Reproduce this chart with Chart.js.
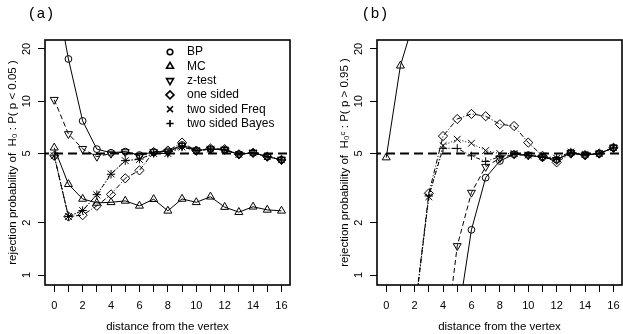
<!DOCTYPE html>
<html>
<head>
<meta charset="utf-8">
<script src="https://cdn.jsdelivr.net/npm/chart.js@4/dist/chart.umd.min.js"></script>
<style>
  html, body { margin: 0; padding: 0; background: #fff; }
  #wrap { position: relative; width: 623px; height: 334px; overflow: hidden; }
  canvas { position: absolute; top: 0; }
</style>
</head>
<body>
<div id="wrap">
  <canvas id="chart-a" width="333" height="334" style="left:0"></canvas>
  <canvas id="chart-b" width="333" height="334" style="left:332px"></canvas>
</div>
<script>
// distances (x) and the log-axis ticks
const distance = [0,1,2,3,4,5,6,7,8,9,10,11,12,13,14,15,16];
const yTicks = [1, 2, 5, 10, 20];
const nominal = 5;

const seriesNames = ['BP', 'MC', 'z-test', 'one sided', 'two sided Freq', 'two sided Bayes'];

// panel (a): H0 rejection, P(p < 0.05), in %
const bpA    = [48, 17.5, 7.7, 5.3, 5.05, 5.13, 4.9, 5.1, 5.15, 5.6, 5.2, 5.3, 5.25, 4.95, 5.05, 4.8, 4.6];
const mcA    = [5.4, 3.33, 2.74, 2.6, 2.62, 2.67, 2.5, 2.73, 2.34, 2.74, 2.62, 2.82, 2.46, 2.3, 2.47, 2.37, 2.34];
const zA     = [10.2, 6.48, 5.32, 4.8, 5.0, 5.1, 4.85, 5.1, 5.1, 5.55, 5.2, 5.3, 5.25, 4.95, 5.05, 4.8, 4.6];
const oneA   = [4.85, 2.17, 2.21, 2.5, 2.91, 3.6, 4.0, 5.1, 5.2, 5.78, 5.2, 5.35, 5.3, 4.95, 5.05, 4.8, 4.6];
const freqA  = [4.85, 2.17, 2.35, 2.89, 3.82, 4.55, 4.62, 5.0, 5.0, 5.45, 5.2, 5.3, 5.25, 4.95, 5.05, 4.8, 4.6];
const bayesA = [4.85, 2.17, 2.35, 2.9, 3.8, 4.55, 4.65, 5.0, 5.0, 5.45, 5.2, 5.3, 5.25, 4.95, 5.05, 4.8, 4.6];

// panel (b): H0^c rejection, P(p > 0.95), in %
const bpB    = [0.05, 0.08, 0.12, 0.2, 0.3, 0.53, 1.82, 3.63, 4.53, 4.95, 4.9, 4.75, 4.6, 5.05, 4.9, 5.0, 5.4];
const mcB    = [4.74, 16, 30, 45, 60, 70, 80, 85, 90, 95, 95, 100, 100, 100, 100, 100, 100];
const zB     = [0.05, 0.08, 0.12, 0.2, 0.32, 1.47, 2.98, 4.2, 4.7, 4.95, 4.9, 4.75, 4.6, 5.05, 4.9, 5.0, 5.4];
const oneB   = [0.1, 0.2, 0.61, 2.95, 6.3, 7.9, 8.45, 8.2, 7.37, 7.2, 5.78, 4.85, 4.45, 5.0, 4.9, 5.0, 5.4];
const freqB  = [0.1, 0.2, 0.6, 2.82, 5.55, 6.04, 5.73, 5.2, 5.0, 5.0, 4.9, 4.85, 4.7, 5.1, 4.95, 5.0, 5.4];
const bayesB = [0.1, 0.2, 0.6, 2.85, 5.36, 5.35, 4.85, 4.5, 4.8, 4.95, 4.85, 4.75, 4.7, 5.1, 4.9, 5.0, 5.4];

(function(){
  const FONT = "'Liberation Sans', Arial, sans-serif";
  // marker + line look per series, same order as seriesNames
  const looks = [
    { pointStyle: 'circle',   rotation: 0,   radius: 3.4, dash: [] },
    { pointStyle: 'triangle', rotation: 0,   radius: 4.6, dash: [] },
    { pointStyle: 'triangle', rotation: 180, radius: 4.6, dash: [5, 3] },
    { pointStyle: 'rectRot',  rotation: 0,   radius: 4.6, dash: [5, 2, 1, 2] },
    { pointStyle: 'crossRot', rotation: 0,   radius: 4.8, dash: [1, 2] },
    { pointStyle: 'cross',    rotation: 0,   radius: 4.2, dash: [4, 2, 1, 2] }
  ];

  function toPoints(vals){
    return distance.map((d, i) => ({ x: d, y: vals[i] }));
  }

  function buildDatasets(all){
    const sets = all.map((vals, i) => ({
      label: seriesNames[i],
      data: toPoints(vals),
      borderColor: '#000',
      backgroundColor: 'rgba(0,0,0,0)',
      borderWidth: 1,
      borderDash: looks[i].dash,
      pointStyle: looks[i].pointStyle,
      pointRotation: looks[i].rotation,
      pointRadius: looks[i].radius,
      pointBorderWidth: 1,
      pointBorderColor: '#000',
      pointBackgroundColor: 'rgba(0,0,0,0)',
      tension: 0
    }));
    // reference line at the nominal 5%
    sets.push({
      label: 'nominal',
      data: [{ x: -1, y: nominal }, { x: 18, y: nominal }],
      borderColor: '#000',
      borderWidth: 2,
      borderDash: [9, 5],
      pointRadius: 0
    });
    return sets;
  }

  const framePlugin = {
    id: 'frame',
    afterDraw(chart, args, opts){
      const ctx = chart.ctx;
      const a = chart.chartArea;
      const ys = chart.scales.y;
      ctx.save();
      ctx.strokeStyle = '#000';
      ctx.lineWidth = 1.6;
      ctx.strokeRect(a.left, a.top, a.right - a.left, a.bottom - a.top);

      // y tick labels written along the axis, like R
      ctx.fillStyle = '#000';
      ctx.font = '11px ' + FONT;
      ctx.textAlign = 'center';
      ctx.textBaseline = 'middle';
      yTicks.forEach(t => {
        const py = ys.getPixelForValue(t);
        ctx.save();
        ctx.translate(a.left - 18, py);
        ctx.rotate(-Math.PI / 2);
        ctx.fillText(String(t), 0, 0);
        ctx.restore();
      });

      // panel tag
      ctx.font = '15px "Liberation Mono", monospace';
      ctx.fillText(opts.tag, opts.tagX, 14);

      if(opts.legend){
        ctx.font = '12px ' + FONT;
        ctx.textAlign = 'left';
        seriesNames.forEach((name, i) => {
          const y = 52 + i * 14.3;
          ctx.save();
          ctx.strokeStyle = '#000';
          ctx.fillStyle = 'rgba(0,0,0,0)';
          ctx.setLineDash([]);
          Chart.helpers.drawPoint(ctx, {
            pointStyle: looks[i].pointStyle,
            rotation: looks[i].rotation,
            radius: looks[i].radius - 0.6,
            borderWidth: 2
          }, 170, y);
          ctx.restore();
          ctx.fillText(name, 187, y);
        });
      }
      ctx.restore();
    }
  };

  function makeChart(id, all, yTitle, tag){
    const ctx = document.getElementById(id);
    return new Chart(ctx, {
      type: 'line',
      data: { datasets: buildDatasets(all) },
      options: {
        responsive: false,
        animation: false,
        layout: { padding: { top: 40, right: 43, left: 0, bottom: 0 } },
        plugins: {
          legend: { display: false },
          tooltip: { enabled: false },
          frame: tag
        },
        scales: {
          x: {
            type: 'linear',
            min: -0.65,
            max: 16.6,
            afterBuildTicks(scale){
              scale.ticks = distance.map(d => ({ value: d }));
            },
            afterFit(scale){ scale.height = 49; },
            ticks: {
              autoSkip: false,
              maxRotation: 0,
              padding: 7,
              color: '#000',
              font: { size: 11, family: FONT },
              callback: v => (v % 2 === 0 ? String(v) : '')
            },
            grid: { drawOnChartArea: false, drawTicks: true, tickLength: 7, color: '#000', lineWidth: 1 },
            border: { display: false },
            title: {
              display: true,
              text: 'distance from the vertex',
              color: '#000',
              padding: { top: 0, bottom: 0 },
              font: { size: 11.5, family: FONT }
            }
          },
          y: {
            type: 'logarithmic',
            min: 0.876,
            max: 22.5,
            afterBuildTicks(scale){
              scale.ticks = yTicks.map(v => ({ value: v }));
            },
            afterFit(scale){ scale.width = 45; },
            ticks: { color: '#000', callback: () => '' , font: { size: 11, family: FONT } },
            grid: { drawOnChartArea: false, drawTicks: true, tickLength: 7, color: '#000', lineWidth: 1 },
            border: { display: false },
            title: {
              display: true,
              text: yTitle,
              color: '#000',
              padding: { top: 6, bottom: 0 },
              font: { size: 11.5, family: FONT }
            }
          }
        }
      },
      plugins: [framePlugin]
    });
  }

  document.addEventListener('DOMContentLoaded', () => {
    makeChart('chart-a', [bpA, mcA, zA, oneA, freqA, bayesA],
      'rejection probability of  H\u2080 : P( p < 0.05 )',
      { tag: '(a)', tagX: 41, legend: true });
    makeChart('chart-b', [bpB, mcB, zB, oneB, freqB, bayesB],
      'rejection probability of  H\u2080\u1D9C : P( p > 0.95 )',
      { tag: '(b)', tagX: 43, legend: false });
  });
})();
</script>
</body>
</html>
